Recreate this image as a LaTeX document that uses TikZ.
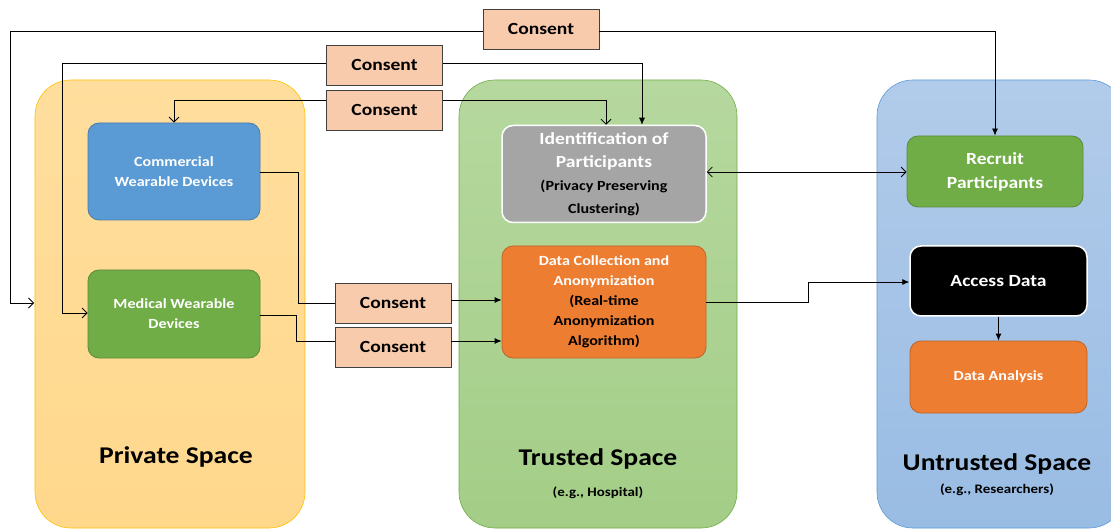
\documentclass[tikz,border=0pt]{standalone}
\usepackage{fontspec}
\setmainfont{Carlito}[FakeStretch=1.15]
\usetikzlibrary{arrows.meta}
\definecolor{cyel}{HTML}{FFD88C}
\definecolor{cyelb}{HTML}{FFC000}
\definecolor{cgrn}{HTML}{A9D18E}
\definecolor{cgrnb}{HTML}{70AD47}
\definecolor{cblu}{HTML}{A4C2E6}
\definecolor{cblub}{HTML}{5B9BD5}
\definecolor{cbox}{HTML}{5B9BD5}
\definecolor{cgreen}{HTML}{70AD47}
\definecolor{cgrey}{HTML}{A5A5A5}
\definecolor{corange}{HTML}{ED7D31}
\definecolor{cconsent}{HTML}{F8CBAD}
\newcommand{\bigtxt}{\fontsize{17}{23}\selectfont}
\newcommand{\smtxt}{\fontsize{14}{20}\selectfont}
\tikzset{
  proc/.style={rounded corners=11pt, line width=0.8pt, text=white, font=\bfseries\smtxt, align=center, inner sep=2pt},
  consentbox/.style={draw=black!75, fill=cconsent, line width=0.6pt, minimum width=116pt, minimum height=40pt, font=\bfseries\fontsize{17}{20}\selectfont, inner sep=0pt},
  conn/.style={line width=0.8pt, draw=black},
  opentip/.style={-{Straight Barb[length=5pt,width=10pt]}},
  filltip/.style={-{Latex[length=7pt,width=6pt]}},
  spacelabel/.style={font=\bfseries\fontsize{24}{28}\selectfont},
  sublabel/.style={font=\bfseries\fontsize{13}{15}\selectfont}
}
\begin{document}
\begin{tikzpicture}[x=1pt,y=-1pt]
\useasboundingbox (0,0) rectangle (1111,529);
% spaces
\fill[white] (0,0) rectangle (1111,529);
\draw[cyelb, line width=0.6pt, top color=cyel!85!white, bottom color=cyel, rounded corners=36pt] (35,80) rectangle (305,528);
\draw[cgrnb, line width=0.6pt, top color=cgrn!85!white, bottom color=cgrn!90!cgrnb, rounded corners=36pt] (459,80) rectangle (737,528);
\draw[cblub, line width=0.6pt, top color=cblu!85!white, bottom color=cblu!85!cblub, rounded corners=36pt] (877,80) rectangle (1125,528);
\node[spacelabel] (lpriv) at (176,457) {Private Space};
\node[spacelabel] (ltrust) at (598,459) {Trusted Space};
\node[sublabel] (ltrust2) at (598,493) {(e.g., Hospital)};
\node[spacelabel] (luntr) at (997,464) {Untrusted Space};
\node[sublabel] (luntr2) at (997,490) {(e.g., Researchers)};
% process boxes
\node[proc, fill=cbox, draw=cbox!80!black, minimum width=172pt, minimum height=97pt] (comm) at (174,171.5) {Commercial\\Wearable Devices};
\node[proc, fill=cgreen, draw=cgreen!80!black, minimum width=172pt, minimum height=88pt] (med) at (174,314) {Medical Wearable\\Devices};
\node[proc, fill=cgrey, draw=white, line width=1.5pt, minimum width=204pt, minimum height=97pt, font=\bfseries\bigtxt] (ident) at (604,174) {Identification of\\Participants\\\smtxt\color{black}(Privacy Preserving\\\smtxt\color{black}Clustering)};
\node[proc, fill=corange, draw=corange!80!black, minimum width=204pt, minimum height=112pt] (dcol) at (604,302) {Data Collection and\\Anonymization\\\color{black}(Real-time\\\color{black}Anonymization\\\color{black}Algorithm)};
\node[proc, fill=cgreen, draw=cgreen!80!black, minimum width=176pt, minimum height=71pt, font=\bfseries\fontsize{17}{24}\selectfont] (recr) at (995,171.5) {Recruit\\Participants};
\node[proc, fill=black, draw=white, line width=1.5pt, minimum width=177pt, minimum height=70pt, font=\bfseries\bigtxt] (acc) at (998.5,281) {Access Data};
\node[proc, fill=corange, draw=corange!80!black, minimum width=177pt, minimum height=72pt] (ana) at (998.5,377) {Data Analysis};
% consent boxes
\node[consentbox] (c1) at (541,29) {Consent};
\node[consentbox] (c2) at (384.5,65) {Consent};
\node[consentbox] (c3) at (384.5,110) {Consent};
\node[consentbox] (c4) at (393,303) {Consent};
\node[consentbox] (c5) at (393,347) {Consent};
\coordinate (privleft) at (34,303);
% connectors
\draw[conn, opentip] (c1.west |- 0,31) -- (10,31) -- (10,303) -- (privleft);
\draw[conn, filltip] (c1.east |- 0,31) -- (995,31) -- (recr.north);
\draw[conn, opentip] (c2.west |- 0,63) -- (62,63) -- (62,313) -- (med.west |- 0,313);
\draw[conn, filltip] (c2.east |- 0,63) -- (642,63) -- (642,0 |- ident.north);
\draw[conn, opentip] (c3.west |- 0,100) -- (174,100) -- (comm.north);
\draw[conn, opentip] (c3.east |- 0,100) -- (606,100) -- (606,0 |- ident.north);
\draw[conn] (comm.east |- 0,172) -- (298,172) -- (298,303) -- (c4.west);
\draw[conn, filltip] (c4.east |- 0,300) -- (dcol.west |- 0,300);
\draw[conn] (med.east |- 0,315) -- (296,315) -- (296,341) -- (c5.west |- 0,341);
\draw[conn, filltip] (c5.east |- 0,341) -- (dcol.west |- 0,341);
\draw[conn, {Straight Barb[length=5pt,width=10pt]}-{Straight Barb[length=5pt,width=10pt]}] (ident.east |- 0,172) -- (recr.west |- 0,172);
\draw[conn, filltip] (dcol.east |- 0,302) -- (808,302) -- (808,282) -- (acc.west |- 0,282);
\draw[conn, filltip] (acc.south) -- (ana.north);
\end{tikzpicture}
\end{document}
